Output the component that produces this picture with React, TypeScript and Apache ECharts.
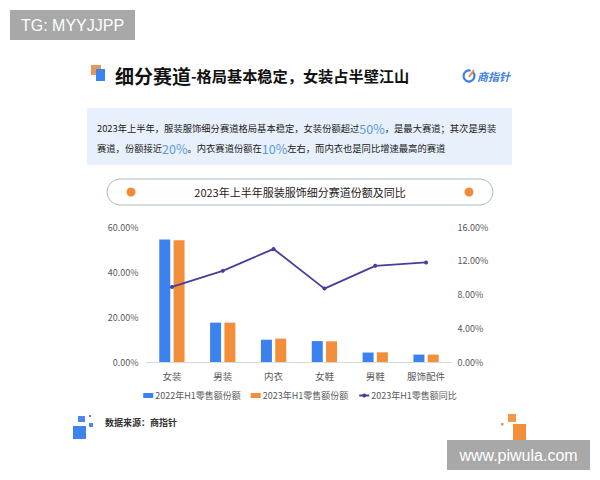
import React, { useEffect, useRef } from "react";
import * as echarts from "echarts";

const categories = ["女装", "男装", "内衣", "女鞋", "男鞋", "服饰配件"];
const share2022 = [54.5, 17.5, 9.9, 9.3, 4.2, 3.3];
const share2023 = [54.1, 17.5, 10.4, 9.2, 4.3, 3.3];
const yoy2023 = [8.9, 10.8, 13.4, 8.7, 11.4, 11.8];
const seriesNames = ["2022年H1零售额份额", "2023年H1零售额份额", "2023年H1零售额同比"];
const leftAxis = { min: 0, max: 60, interval: 20 };
const rightAxis = { min: 0, max: 16, interval: 4 };

const FONT = '"Noto Sans CJK SC", "Noto Sans", sans-serif';
const BLUE = "#3b82ef";
const ORANGE = "#f38f3a";
const PURPLE = "#4a3c9c";

export default function App() {
  const ref = useRef<HTMLDivElement>(null);
  useEffect(() => {
    if (!ref.current) return;
    const chart = echarts.init(ref.current, null, { renderer: "svg" });
    const pct = (v: number) => `${v.toFixed(2)}%`;
    chart.setOption({
      animation: false,
      backgroundColor: "#ffffff",
      textStyle: { fontFamily: FONT },
      graphic: [
        // watermark top-left
        { type: "rect", shape: { x: 10, y: 10, width: 125, height: 30 }, style: { fill: "#a8a8a8" } },
        { type: "text", x: 72.5, y: 25, style: { text: "TG: MYYJJPP", fill: "#ffffff", fontSize: 16, fontFamily: "Liberation Sans, Arial, sans-serif", align: "center", verticalAlign: "middle" } },
        // header icon
        { type: "rect", shape: { x: 91, y: 65, width: 10, height: 10 }, style: { fill: "#e09a5e" } },
        { type: "rect", shape: { x: 96, y: 69, width: 9, height: 12 }, style: { fill: "#3d84ee" } },
        {
          type: "text", x: 115, y: 75,
          style: {
            text: "{a|细分赛道}{b|-格局基本稳定，女装占半壁江山}",
            verticalAlign: "middle",
            rich: {
              a: { fontSize: 19, fontWeight: "bold", fill: "#111111", fontFamily: FONT },
              b: { fontSize: 15.2, fontWeight: "bold", fill: "#111111", fontFamily: FONT },
            },
          },
        },
        // logo
        { type: "arc", shape: { cx: 469, cy: 76, r: 5.5, startAngle: -Math.PI * 0.25, endAngle: Math.PI * 1.6 }, style: { stroke: "#3f7fe0", lineWidth: 2.2, fill: "none" } },
        { type: "line", shape: { x1: 469, y1: 77, x2: 474, y2: 70 }, style: { stroke: "#e8894a", lineWidth: 1.8 } },
        { type: "text", x: 477, y: 76, style: { text: "商指针", fill: "#3f7fe0", fontSize: 11, fontWeight: "bold", fontStyle: "italic", fontFamily: FONT, verticalAlign: "middle" } },
        // summary box
        { type: "rect", shape: { x: 87, y: 108, width: 425, height: 57 }, style: { fill: "#e7f0fb" } },
        {
          type: "text", x: 97, y: 128,
          style: {
            text: "2023年上半年，服装服饰细分赛道格局基本稳定，女装份额超过{h|50%}，是最大赛道；其次是男装",
            fill: "#222222", fontSize: 9.3, fontFamily: FONT, verticalAlign: "middle",
            rich: { h: { fontSize: 12.5, fill: "#5b9bd5", fontFamily: FONT } },
          },
        },
        {
          type: "text", x: 97, y: 148,
          style: {
            text: "赛道，份额接近{h|20%}。内衣赛道份额在{h|10%}左右，而内衣也是同比增速最高的赛道",
            fill: "#222222", fontSize: 9.3, fontFamily: FONT, verticalAlign: "middle",
            rich: { h: { fontSize: 12.5, fill: "#5b9bd5", fontFamily: FONT } },
          },
        },
        // title pill
        { type: "rect", shape: { x: 107, y: 179, width: 386, height: 26, r: 13 }, style: { fill: "#ffffff", stroke: "#a9bcc8", lineWidth: 1 } },
        { type: "circle", shape: { cx: 131, cy: 192, r: 4.5 }, style: { fill: "#ee8c3c" } },
        { type: "circle", shape: { cx: 469, cy: 192, r: 4.5 }, style: { fill: "#ee8c3c" } },
        { type: "text", x: 300, y: 192, style: { text: "2023年上半年服装服饰细分赛道份额及同比", fill: "#222222", fontSize: 11, fontFamily: FONT, align: "center", verticalAlign: "middle" } },
        // bottom-left icon
        { type: "rect", shape: { x: 78, y: 416, width: 7, height: 6 }, style: { fill: "#4a8ae8" } },
        { type: "rect", shape: { x: 89, y: 415, width: 2, height: 2 }, style: { fill: "#4a8ae8" } },
        { type: "rect", shape: { x: 89, y: 423, width: 4, height: 4 }, style: { fill: "#4a8ae8" } },
        { type: "rect", shape: { x: 73, y: 426, width: 13, height: 13 }, style: { fill: "#3d84ee" } },
        { type: "text", x: 105, y: 422, style: { text: "数据来源：商指针", fill: "#333333", fontSize: 9, fontWeight: "bold", fontFamily: FONT, verticalAlign: "middle" } },
        // bottom-right icon
        { type: "rect", shape: { x: 508, y: 414, width: 8, height: 8 }, style: { fill: "#f29a4a" } },
        { type: "rect", shape: { x: 501, y: 423, width: 2.5, height: 2.5 }, style: { fill: "#c9a080" } },
        { type: "rect", shape: { x: 513, y: 424, width: 13, height: 16 }, style: { fill: "#f38f3a" } },
        // watermark bottom-right
        { type: "rect", shape: { x: 447, y: 440, width: 143, height: 30 }, style: { fill: "#a8a8a8" } },
        { type: "text", x: 518.5, y: 455, style: { text: "www.piwula.com", fill: "#ffffff", fontSize: 16, fontFamily: "Liberation Sans, Arial, sans-serif", align: "center", verticalAlign: "middle" } },
      ],
      grid: { left: 146.5, top: 227, width: 305, height: 135, containLabel: false },
      legend: {
        left: "center",
        top: 386,
        itemGap: 10,
        itemWidth: 10,
        itemHeight: 5,
        textStyle: { fontSize: 9, color: "#595959", fontFamily: FONT, padding: [0, 0, 0, -3] },
        data: [
          { name: seriesNames[0], icon: "rect" },
          { name: seriesNames[1], icon: "rect" },
          { name: seriesNames[2] },
        ],
      },
      xAxis: {
        type: "category",
        data: categories,
        axisLine: { lineStyle: { color: "#d9d9d9" } },
        axisTick: { show: false },
        axisLabel: { color: "#595959", fontSize: 9.5, fontFamily: FONT, margin: 9 },
      },
      yAxis: [
        {
          type: "value", ...leftAxis,
          splitLine: { show: false },
          axisLine: { show: false }, axisTick: { show: false },
          axisLabel: { formatter: pct, color: "#595959", fontSize: 9, fontFamily: FONT, margin: 8 },
        },
        {
          type: "value", ...rightAxis,
          splitLine: { show: false },
          axisLine: { show: false }, axisTick: { show: false },
          axisLabel: { formatter: pct, color: "#595959", fontSize: 9, fontFamily: FONT, margin: 6 },
        },
      ],
      series: [
        { name: seriesNames[0], type: "bar", data: share2022, barWidth: 11, barGap: "30%", itemStyle: { color: BLUE } },
        { name: seriesNames[1], type: "bar", data: share2023, barWidth: 11, barGap: "30%", itemStyle: { color: ORANGE } },
        {
          name: seriesNames[2], type: "line", yAxisIndex: 1, data: yoy2023,
          symbol: "circle", symbolSize: 4,
          lineStyle: { color: PURPLE, width: 1.8 },
          itemStyle: { color: PURPLE },
          z: 5,
        },
      ],
    });
    return () => chart.dispose();
  }, []);
  return <div ref={ref} style={{ position: "absolute", left: 0, top: 0, width: 600, height: 480 }} />;
}
